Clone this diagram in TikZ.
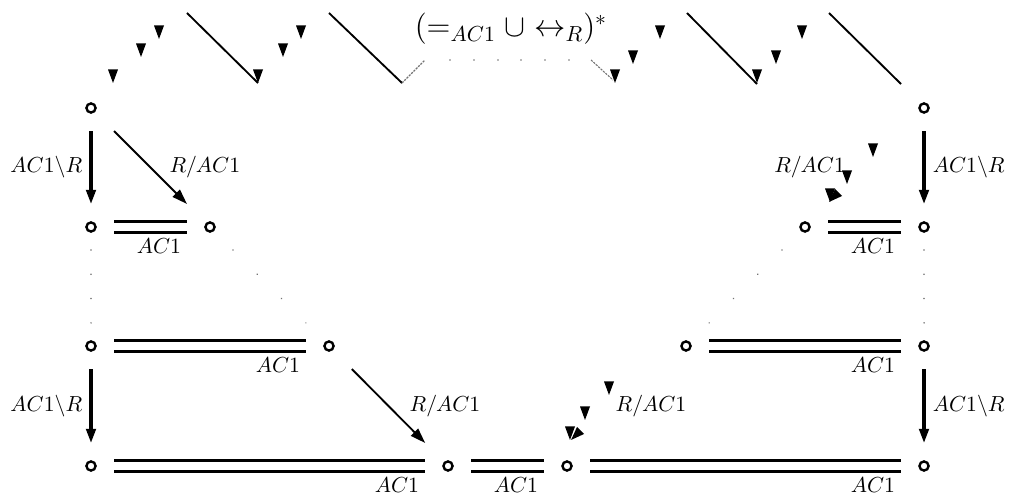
\documentclass[tikz,border=0pt]{standalone}
\usepackage{amsmath}
\usepackage{amssymb}
\usetikzlibrary{arrows.meta, calc, decorations.markings}

\begin{document}
\begin{tikzpicture}[x=0.46pt, y=-0.46pt,
    obj/.style={rectangle, minimum size=21.2pt, inner sep=0pt, outer sep=0pt,
      path picture={\draw[line width=1.1pt] (path picture bounding box.center) circle (2.1pt);}},
    thick arr/.style={line width=1.4pt, -{Triangle[length=6.5pt, width=4.4pt]}},
    diag arr/.style={line width=0.85pt, -{Triangle[length=7pt, width=4.6pt]}},
    eq/.style={double, line width=1.4pt, double distance=3.9pt},
    eqlabel/.style={below left, inner sep=1pt, xshift=-1pt, yshift=-3.5pt},
    dots/.style={postaction={decorate}, decoration={markings,
      mark=between positions 0 and 1 step 0.333 with {\fill[black!55] circle (0.4pt);}}},
    seg/.style={line width=0.85pt},
    faint/.style={black!55, line width=0.5pt, dash pattern=on 1pt off 0.5pt},
    tri/.pic={\fill (-5,-6.5) -- (5,-6.5) -- (0,7) -- cycle;}]
   \useasboundingbox (0,0) rectangle (1016,495);

   % objects of the diagram
   \node[obj] (a_0) at (91,108) {};
   \node[obj] (a_7) at (924,108) {};
   \node[obj] (b_0) at (91,227) {};
   \node[obj] (b_1) at (210,227) {};
   \node[obj] (b_6) at (805,227) {};
   \node[obj] (b_7) at (924,227) {};
   \node[obj] (c_0) at (91,346) {};
   \node[obj] (c_2) at (329,346) {};
   \node[obj] (c_5) at (686,346) {};
   \node[obj] (c_7) at (924,346) {};
   \node[obj] (d_0) at (91,466) {};
   \node[obj] (d_3) at (448,466) {};
   \node[obj] (d_4) at (567,466) {};
   \node[obj] (d_7) at (924,466) {};

   % label of the big arc on top
   \node (star) at (511,29) {\Large $(=_{AC1}\cup\leftrightarrow_R)^*$};

   % vertical arrows
   \draw[thick arr] (a_0) -- (b_0) node[midway, left] {$AC1\backslash R$};
   \draw[thick arr] (a_7) -- (b_7) node[midway, right] {$AC1\backslash R$};
   \draw[thick arr] (c_0) -- (d_0) node[midway, left] {$AC1\backslash R$};
   \draw[thick arr] (c_7) -- (d_7) node[midway, right] {$AC1\backslash R$};

   % diagonal arrows (the right ones only show their labels)
   \draw[diag arr] (a_0) -- (b_1) node[midway, right, xshift=5pt] {$R/AC1$};
   \draw[diag arr] (c_2) -- (d_3) node[midway, right, xshift=6pt] {$R/AC1$};
   \path (a_7) -- (b_6) node[midway, left, xshift=-5.5pt] {$R/AC1$};
   \path (c_5) -- (d_4) node[midway, right, xshift=-8.5pt] {$R/AC1$};

   % equalities
   \draw[eq] (b_0) -- (b_1) node[eqlabel, pos=1] {$AC1$};
   \draw[eq] (b_6) -- (b_7) node[eqlabel, pos=1] {$AC1$};
   \draw[eq] (c_0) -- (c_2) node[eqlabel, pos=1] {$AC1$};
   \draw[eq] (c_5) -- (c_7) node[eqlabel, pos=1] {$AC1$};
   \draw[eq] (d_0) -- (d_3) node[eqlabel, pos=1] {$AC1$};
   \draw[eq] (d_3) -- (d_4) node[eqlabel, pos=1] {$AC1$};
   \draw[eq] (d_4) -- (d_7) node[eqlabel, pos=1] {$AC1$};

   % dotted links between the middle rows
   \path[dots] (b_0) -- (c_0);
   \path[dots] (b_1) -- (c_2);
   \path[dots] (b_6) -- (c_5);
   \path[dots] (b_7) -- (c_7);

   % pieces of the arc
   \draw[seg] (187,13) -- (258,83);
   \draw[seg] (329,13) -- (402,83);
   \draw[faint] (402,83) -- (425,60);
   \foreach \x in {450,474,498,521,545,569}
     \fill[black!55] (\x,60) circle (0.4pt);
   \draw[faint] (591,60) -- (613,80);
   \draw[seg] (687,13) -- (757,84);
   \draw[seg] (829,13) -- (901,84);

   % stray arrow heads
   \foreach \x/\y in {113/76, 141/50, 159/32, 258/76, 283/50, 301/32,
                      615/76, 633/57, 660/32, 757/76, 776/57, 802/32,
                      873/150, 847/177, 830/195, 609/388, 585/413, 570/433}
     \pic at (\x,\y) {tri};
   \pic[rotate=-45] at (834,197) {tri};
   \pic[rotate=-45] at (576,435) {tri};
\end{tikzpicture}
\end{document}
